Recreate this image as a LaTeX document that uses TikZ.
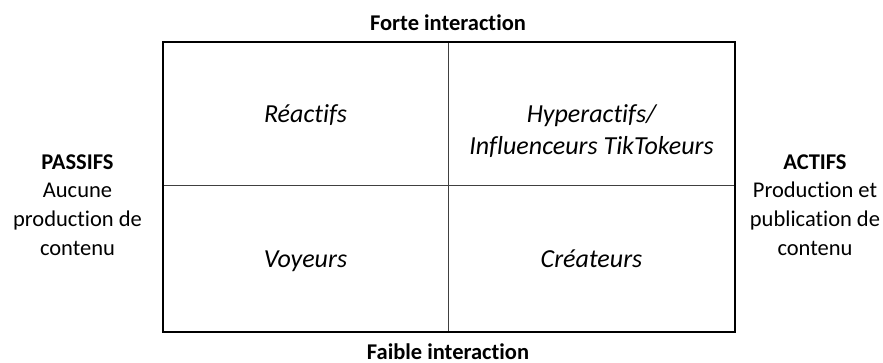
\documentclass[tikz,border=0pt]{standalone}
\usepackage{fontspec}
\setmainfont{Carlito}[Ligatures=NoCommon]
\usetikzlibrary{positioning}
\tikzset{axe/.style = {font=\fontsize{22.5}{27.5}\selectfont\bfseries, inner sep = 0}}
\tikzset{profil/.style = {font=\fontsize{26}{32}\selectfont\itshape, align=center, inner sep = 0}}
\tikzset{pole/.style = {font=\fontsize{22.5}{28.5}\selectfont, align=center, inner sep = 0}}
\tikzset{cadre/.style = {draw, line width = 1.2}}
\tikzset{sep/.style = {draw=black!75, line width = 1}}

\begin{document}
\begin{tikzpicture}[x=1pt, y=-1pt]
      \useasboundingbox (0, 0) rectangle (883, 363);
      \coordinate (nw) at (163, 42);
      \coordinate (se) at (735, 332);
      \coordinate (mid) at (448, 186);
      \draw [sep] (nw -| mid) -- (se -| mid);
      \draw [sep] (nw |- mid) -- (se |- mid);
      \draw [cadre] (nw) rectangle (se);
      \node [axe, anchor=base] (forte) at (448, 30.5) {Forte interaction};
      \node [axe, anchor=base] (faible) at (448, 359) {Faible interaction};
      \node [profil, anchor=base] (reactifs) at (305.5, 123) {Réactifs};
      \node [profil, anchor=base] (hyper) at (591.5, 155) {Hyperactifs/\\Influenceurs TikTokeurs};
      \node [profil, anchor=base] (voyeurs) at (305.5, 267.5) {Voyeurs};
      \node [profil, anchor=base] (createurs) at (591.5, 267.5) {Créateurs};
      \node [pole, anchor=base] (passifs) at (77.5, 255) {\textbf{PASSIFS}\\Aucune\\production de\\contenu};
      \node [pole, anchor=base] (actifs) at (815, 255) {\textbf{ACTIFS}\\Production et\\publication de\\contenu};
    \end{tikzpicture}
\end{document}
